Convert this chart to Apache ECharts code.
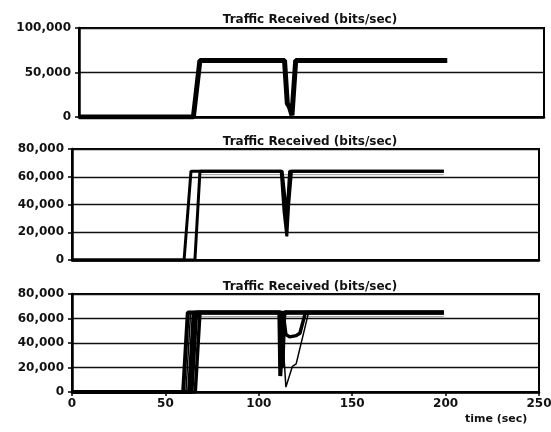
<!DOCTYPE html>
<html>
<head>
<meta charset="utf-8">
<script src="https://cdn.jsdelivr.net/npm/echarts@6/dist/echarts.min.js"></script>
<style>html,body{margin:0;padding:0;background:#fff;}#c{width:551px;height:432px;}</style>
</head>
<body>
<div id="c"></div>
<script>
// ---- data ----
var titleText = 'Traffic Received (bits/sec)';
var xTicks = [0, 50, 100, 150, 200, 250];
var xName = 'time (sec)';

// panel 1 (0..100,000)
var p1 = [[0,0],[61.5,0],[65,63500],[110.5,63500],[112,15000],[113,12000],[114.5,2000],[116.5,63500],[198,63500]];

// panel 2 (0..80,000)
var p2a = [[0,0],[60,0],[63.7,64000],[112,64000],[113.5,35000],[115,17000],[116,40000],[117.5,64000],[199,64000]];
var p2b = [[0,0],[65.8,0],[68.5,64000],[112.5,64000],[114,45000],[115,30000],[116.5,64000],[199,64000]];
var p2c = [[69,61500],[112,61500],[117.5,61500],[199,61500]];

// panel 3 (0..80,000)
var p3a = [[0,0],[59.5,0],[62,65000],[111,65000],[111.5,13000],[112.5,12000],[113.5,65000],[199,65000]];
var p3b = [[0,0],[61,0],[63.5,65000],[112,65000],[114.5,4000],[118,21000],[120,23000],[121,22000],[126.5,64000],[199,64000]];
var p3c = [[0,0],[62.5,0],[65,65000],[113,65000],[114.5,47000],[116.5,45000],[120,46000],[122,48000],[125,65000],[199,65000]];
var p3d = [[0,0],[64,0],[66.5,65000],[111.5,65000],[112.5,30000],[113.5,62000],[114,65000],[199,65000]];
var p3f = [[0,0],[66,0],[68.5,65000],[112,65000],[112.8,20000],[113.8,65000],[199,65000]];
var p3e = [[67,61500],[199,61500]];

// ---- chart ----
var chart = echarts.init(document.getElementById('c'));
var FONT = 'DejaVu Sans';
function fmt(v){ return Number(v).toLocaleString('en-US'); }

function yAx(gi, max, interval){
  return {
    type:'value', gridIndex:gi, min:0, max:max, interval:interval,
    axisLine:{show:true, lineStyle:{color:'#000', width:2.5}},
    axisTick:{show:true, length:4, lineStyle:{color:'#000', width:1.5}},
    axisLabel:{formatter:fmt, color:'#111', fontFamily:FONT, fontWeight:'bold', fontSize:12, margin:8},
    splitLine:{show:true, lineStyle:{color:'#111', width:1.3}}
  };
}
function xAx(gi, showLabels){
  return {
    type:'value', gridIndex:gi, min:0, max:250, interval:50,
    axisLine:{show:true, onZero:false, lineStyle:{color:'#000', width:2.5}},
    axisTick:{show:showLabels, length:4, lineStyle:{color:'#000', width:1.5}},
    axisLabel:{show:showLabels, color:'#111', fontFamily:FONT, fontWeight:'bold', fontSize:12, margin:6},
    splitLine:{show:false}
  };
}
function ser(data, xi, w, color){
  return {type:'line', xAxisIndex:xi, yAxisIndex:xi, data:data, showSymbol:false, symbol:'none',
    lineStyle:{color:color||'#000', width:w}, z:3, animation:false};
}

var gridBase = {show:true, borderColor:'#000', borderWidth:2, backgroundColor:'transparent', containLabel:false, outerBoundsMode:'none'};
var tStyle = {fontFamily:FONT, fontWeight:'bold', fontSize:12, color:'#111'};

chart.setOption({
  animation:false,
  backgroundColor:'#fff',
  title:[
    {text:titleText, left:305, top:9, textAlign:'center', textStyle:tStyle},
    {text:titleText, left:305, top:131, textAlign:'center', textStyle:tStyle},
    {text:titleText, left:305, top:276, textAlign:'center', textStyle:tStyle}
  ],
  grid:[
    Object.assign({left:79, right:7, top:28, height:89}, gridBase),
    Object.assign({left:72, right:12, top:149, height:111}, gridBase),
    Object.assign({left:72, right:12, top:294, height:98}, gridBase)
  ],
  xAxis:[xAx(0,false), xAx(1,false), xAx(2,true)],
  yAxis:[yAx(0,100000,50000), yAx(1,80000,20000), yAx(2,80000,20000)],
  series:[
    ser(p1,0,5),
    ser(p2c,1,1,'#999'),
    ser(p2a,1,3),
    ser(p2b,1,3),
    ser(p3e,2,1,'#999'),
    ser(p3a,2,4),
    ser(p3f,2,3.5),
    ser(p3b,2,1.5),
    ser(p3c,2,3.5),
    ser(p3d,2,4)
  ],
  graphic:[
    {type:'text', left:465, top:414, style:{text:xName, fontFamily:FONT, fontWeight:'bold', fontSize:11, fill:'#111'}}
  ]
});
</script>
</body>
</html>
